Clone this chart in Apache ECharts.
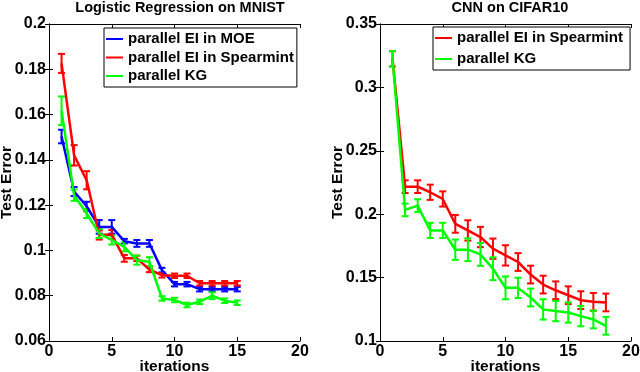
<!DOCTYPE html>
<html>
<head>
<meta charset="utf-8">
<script src="https://cdn.jsdelivr.net/npm/echarts@6/dist/echarts.min.js"></script>
<style>
  html, body { margin: 0; padding: 0; background: #fff; }
  #main { width: 640px; height: 372px; }
</style>
</head>
<body>
<div id="main"></div>
<script>
// left panel: Logistic Regression on MNIST
var lrIter = [1, 2, 3, 4, 5, 6, 7, 8, 9, 10, 11, 12, 13, 14, 15];
var lrMoeMean = [0.1503, 0.126, 0.1195, 0.1104, 0.1104, 0.1041, 0.1031, 0.1031, 0.0913, 0.0851, 0.0851, 0.0829, 0.0829, 0.0829, 0.0829];
var lrMoeErr = [0.003, 0.002, 0.002, 0.003, 0.003, 0.001, 0.0015, 0.0015, 0.001, 0.001, 0.001, 0.001, 0.001, 0.001, 0.001];
var lrSpearMean = [0.1826, 0.142, 0.131, 0.1068, 0.107, 0.0965, 0.0965, 0.0916, 0.089, 0.0888, 0.0888, 0.0855, 0.0855, 0.0855, 0.0855];
var lrSpearErr = [0.0042, 0.0045, 0.004, 0.002, 0.002, 0.0015, 0.0012, 0.0012, 0.001, 0.001, 0.001, 0.001, 0.001, 0.001, 0.001];
var lrKgMean = [0.1617, 0.1244, 0.1163, 0.1075, 0.1046, 0.1016, 0.0957, 0.095, 0.0788, 0.0781, 0.0759, 0.0773, 0.08, 0.0778, 0.0769];
var lrKgErr = [0.0063, 0.0025, 0.002, 0.002, 0.002, 0.002, 0.002, 0.002, 0.001, 0.001, 0.001, 0.001, 0.0015, 0.001, 0.001];

// right panel: CNN on CIFAR10
var cnnIter = [1, 2, 3, 4, 5, 6, 7, 8, 9, 10, 11, 12, 13, 14, 15, 16, 17, 18];
var cnnSpearMean = [0.3225, 0.2217, 0.2217, 0.2173, 0.212, 0.1924, 0.1872, 0.182, 0.1728, 0.1675, 0.1623, 0.1524, 0.1445, 0.140, 0.1361, 0.1322, 0.1309, 0.1304];
var cnnSpearErr = [0.006, 0.005, 0.005, 0.006, 0.006, 0.007, 0.008, 0.008, 0.008, 0.008, 0.007, 0.007, 0.007, 0.007, 0.007, 0.007, 0.007, 0.007];
var cnnKgMean = [0.3225, 0.2034, 0.2068, 0.1872, 0.1872, 0.172, 0.172, 0.1683, 0.157, 0.1419, 0.1419, 0.1343, 0.1249, 0.1236, 0.1225, 0.1196, 0.117, 0.112];
var cnnKgErr = [0.006, 0.005, 0.005, 0.006, 0.006, 0.008, 0.009, 0.009, 0.009, 0.009, 0.008, 0.007, 0.008, 0.008, 0.008, 0.008, 0.007, 0.007];

var BLUE = '#0000ff', RED = '#ff0000', GREEN = '#00ff00';
var FONT = 'Liberation Sans';

function pairs(xs, ys) {
  return xs.map(function (x, i) { return [x, ys[i]]; });
}
function bars(xs, ys, es) {
  return xs.map(function (x, i) { return [x, ys[i] - es[i], ys[i] + es[i]]; });
}

function errorRender(color) {
  return function (params, api) {
    var lo = api.coord([api.value(0), api.value(1)]);
    var hi = api.coord([api.value(0), api.value(2)]);
    var w = 3.5;
    var st = { stroke: color, lineWidth: 2 };
    return {
      type: 'group',
      children: [
        { type: 'line', shape: { x1: lo[0], y1: lo[1], x2: hi[0], y2: hi[1] }, style: st },
        { type: 'line', shape: { x1: lo[0] - w, y1: lo[1], x2: lo[0] + w, y2: lo[1] }, style: st },
        { type: 'line', shape: { x1: hi[0] - w, y1: hi[1], x2: hi[0] + w, y2: hi[1] }, style: st }
      ]
    };
  };
}

function lineSeries(name, xi, data, color) {
  return {
    name: name, type: 'line', xAxisIndex: xi, yAxisIndex: xi,
    data: data, symbol: 'none', z: 3,
    lineStyle: { color: color, width: 2.5 }, itemStyle: { color: color }
  };
}
function errSeries(name, xi, data, color) {
  return {
    name: name, type: 'custom', xAxisIndex: xi, yAxisIndex: xi,
    data: data, renderItem: errorRender(color), z: 3, silent: true
  };
}

function font(size) {
  return { color: '#000', fontFamily: FONT, fontWeight: 'bold', fontSize: size };
}

function mainX(gi) {
  return {
    type: 'value', gridIndex: gi, min: 0, max: 20, interval: 5,
    name: 'iterations', nameLocation: 'middle', nameGap: 18, nameMoveOverlap: false,
    nameTextStyle: font(15.5),
    axisLine: { lineStyle: { color: '#000', width: 1 } },
    axisTick: { inside: true, length: 4, lineStyle: { color: '#000' } },
    axisLabel: Object.assign({ margin: 3 }, font(16)),
    splitLine: { show: false }
  };
}
function mainY(gi, min, max, step) {
  return {
    type: 'value', gridIndex: gi, min: min, max: max, interval: step,
    name: 'Test Error', nameLocation: 'middle', nameGap: 34, nameMoveOverlap: false,
    nameTextStyle: font(15.5),
    axisLine: { show: true, lineStyle: { color: '#000', width: 1 } },
    axisTick: { show: true, inside: true, length: 4, lineStyle: { color: '#000' } },
    axisLabel: Object.assign({ margin: 3 }, font(16)),
    splitLine: { show: false }
  };
}
function mirrorX(gi) {
  return {
    type: 'value', gridIndex: gi, position: 'top', min: 0, max: 20, interval: 5,
    axisLine: { lineStyle: { color: '#000', width: 1 } },
    axisTick: { inside: true, length: 4, lineStyle: { color: '#000' } },
    axisLabel: { show: false }, splitLine: { show: false }
  };
}
function mirrorY(gi, min, max, step) {
  return {
    type: 'value', gridIndex: gi, position: 'right', min: min, max: max, interval: step,
    axisLine: { show: true, lineStyle: { color: '#000', width: 1 } },
    axisTick: { show: true, inside: true, length: 4, lineStyle: { color: '#000' } },
    axisLabel: { show: false }, splitLine: { show: false }
  };
}

function legendBox(left, top, gap, names, colors) {
  return {
    orient: 'vertical', left: left, top: top,
    backgroundColor: '#fff', borderColor: '#000', borderWidth: 1,
    padding: [3, 3, 3, 2], itemGap: gap, itemWidth: 17, itemHeight: 2,
    textStyle: Object.assign({ lineHeight: 16 }, font(15)),
    data: names.map(function (n, i) {
      return { name: n, icon: 'rect', itemStyle: { color: colors[i] } };
    })
  };
}

var chart = echarts.init(document.getElementById('main'), null, { renderer: 'canvas' });
chart.setOption({
  animation: false,
  backgroundColor: '#fff',
  title: [
    { text: 'Logistic Regression on MNIST', left: 175, top: -5, textAlign: 'center',
      textStyle: font(14.5) },
    { text: 'CNN on CIFAR10', left: 505, top: -5, textAlign: 'center', textStyle: font(14.5) }
  ],
  grid: [
    { left: 49, right: 340, top: 24, bottom: 31, outerBoundsMode: 'none' },
    { left: 380, right: 9, top: 24, bottom: 31, outerBoundsMode: 'none' }
  ],
  legend: [
    legendBox(104, 28, 2.5, ['parallel EI in MOE', 'parallel EI in Spearmint', 'parallel KG'], [BLUE, RED, GREEN]),
    legendBox(433, 27, 5, ['parallel EI in Spearmint ', 'parallel KG '], [RED, GREEN])
  ],
  xAxis: [mainX(0), mainX(1), mirrorX(0), mirrorX(1)],
  yAxis: [
    mainY(0, 0.06, 0.2, 0.02), mainY(1, 0.1, 0.35, 0.05),
    mirrorY(0, 0.06, 0.2, 0.02), mirrorY(1, 0.1, 0.35, 0.05)
  ],
  series: [
    lineSeries('parallel EI in MOE', 0, pairs(lrIter, lrMoeMean), BLUE),
    errSeries('parallel EI in MOE', 0, bars(lrIter, lrMoeMean, lrMoeErr), BLUE),
    lineSeries('parallel EI in Spearmint', 0, pairs(lrIter, lrSpearMean), RED),
    errSeries('parallel EI in Spearmint', 0, bars(lrIter, lrSpearMean, lrSpearErr), RED),
    lineSeries('parallel KG', 0, pairs(lrIter, lrKgMean), GREEN),
    errSeries('parallel KG', 0, bars(lrIter, lrKgMean, lrKgErr), GREEN),
    lineSeries('parallel EI in Spearmint ', 1, pairs(cnnIter, cnnSpearMean), RED),
    errSeries('parallel EI in Spearmint ', 1, bars(cnnIter, cnnSpearMean, cnnSpearErr), RED),
    lineSeries('parallel KG ', 1, pairs(cnnIter, cnnKgMean), GREEN),
    errSeries('parallel KG ', 1, bars(cnnIter, cnnKgMean, cnnKgErr), GREEN)
  ]
});
</script>
</body>
</html>
